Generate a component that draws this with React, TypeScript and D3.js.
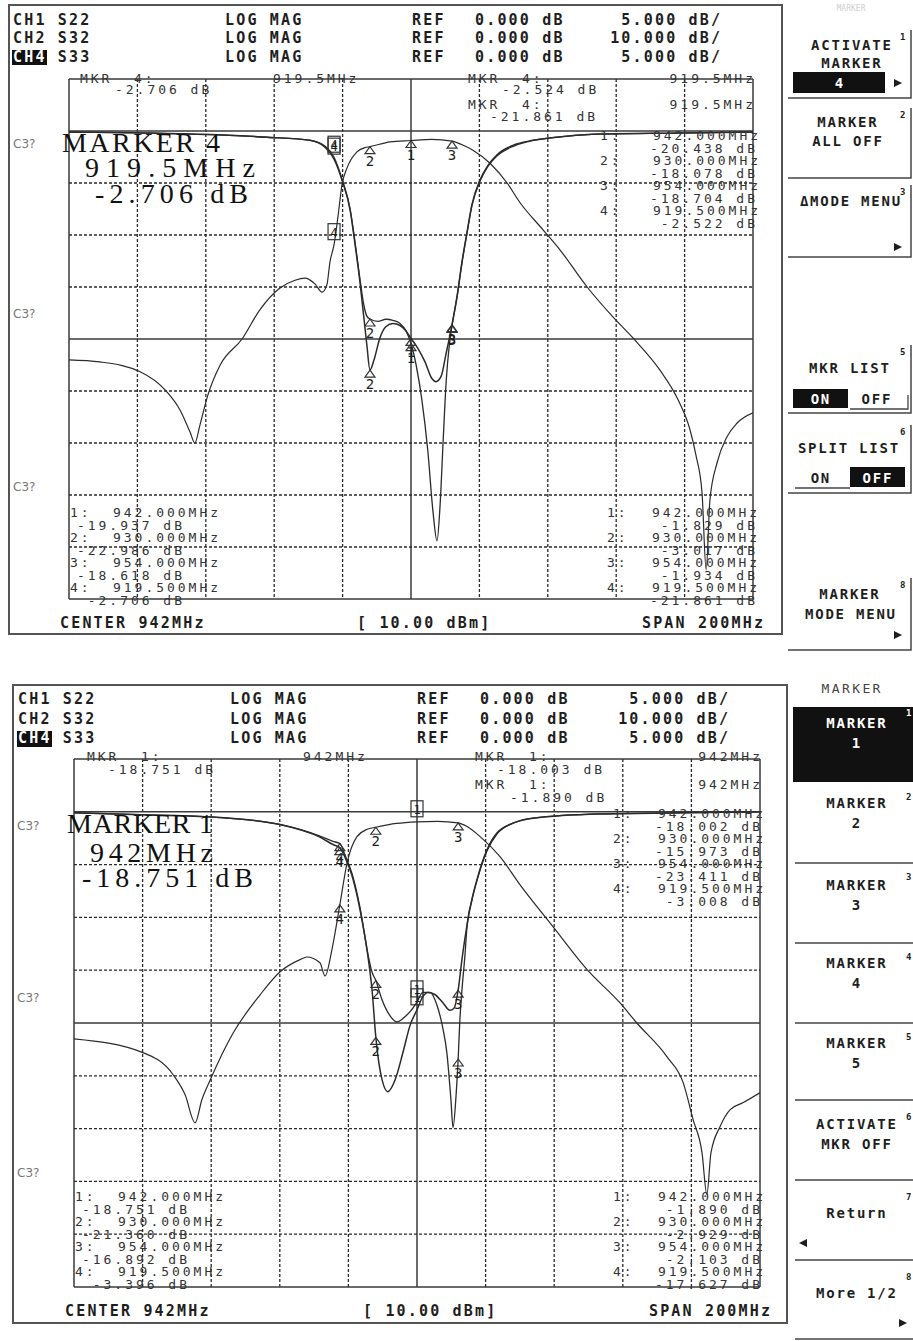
import * as d3 from "d3";

// sweep setup (same on both screens)
const CENTER_MHZ = 942;
const SPAN_MHZ = 200;
const MKR_MHZ = [942, 930, 954, 919.5]; // markers 1..4
const STIMULUS = "[ 10.00 dBm]";

// ---- upper screen, marker 4 active ----
// [MHz, dB]
const S22_UP: [number, number][] = [
  [842, -0.1], [866, -0.2], [900, -0.6], [912.5, -0.9], [917, -1.6], [919.5, -2.706], [922, -4.9],
  [924.2, -7.6], [925.6, -10.8], [927.1, -14.6], [928.3, -18.2], [929.1, -20.6], [930, -22.986],
  [931.2, -22.0], [932.9, -19.9], [934.7, -18.8], [936.7, -18.5], [938.8, -18.7], [940.5, -19.2],
  [942, -19.937], [944, -20.9], [946.1, -22.2], [948.1, -23.8], [949.3, -24.1], [950.8, -23.6],
  [952.2, -21.5], [954, -18.618], [955.5, -15.8], [956.9, -12.6], [958.4, -9.7], [959.8, -7.1],
  [962.2, -4.7], [964.5, -3.3], [967.1, -2.3], [972.4, -1.3], [977.7, -0.9], [987.6, -0.5],
  [997, -0.3], [1020, -0.2], [1042, -0.1],
];
const S33_UP: [number, number][] = [
  [842, -0.1], [866, -0.2], [900, -0.6], [912.5, -0.9], [917, -1.5], [919.5, -2.522], [922, -4.8],
  [924.2, -7.5], [925.6, -10.6], [927.1, -14.3], [928.3, -16.9], [929.1, -17.8], [930, -18.078],
  [932.3, -18.3], [934.7, -18.1], [936.7, -18.2], [938.8, -18.5], [940.5, -19.2], [942, -20.438],
  [943.5, -22.5], [945.2, -25.9], [946.9, -30.7], [948.4, -36.5], [949.6, -39.4], [950.5, -36.0],
  [951.4, -29.8], [952.3, -24.0], [953.2, -20.6], [954, -18.704], [955.5, -15.9], [956.9, -12.7],
  [958.4, -9.8], [959.8, -7.2], [962.2, -4.8], [964.5, -3.4], [967.1, -2.4], [972.4, -1.4],
  [977.7, -0.9], [987.6, -0.5], [997, -0.3], [1020, -0.2], [1042, -0.1],
];
const S32_UP: [number, number][] = [
  [842, -44.0], [851, -44.4], [862.8, -46.3], [870.1, -49.8], [874.5, -53.7], [877.4, -57.9],
  [878.8, -60.0], [880.3, -56.5], [882.6, -50.8], [886.2, -45.0], [892.6, -40.0], [897.8, -34.4],
  [903.7, -30.2], [908.1, -28.7], [911, -28.3], [913.9, -29.4], [916, -31.0], [917.4, -29.6],
  [918.3, -25.2], [919.5, -21.861], [920.7, -16.2], [921.8, -10.4], [923.3, -7.1], [926.2, -4.0],
  [928.5, -3.2], [930, -3.017], [935.9, -2.1], [942, -1.829], [948, -1.6], [954, -1.934],
  [957.8, -2.9], [960.1, -3.7], [965.1, -6.2], [970.1, -10.0], [973.9, -13.8], [980.6, -19.0],
  [985.6, -22.9], [993.5, -30.0], [1001.1, -35.8], [1006.9, -39.8], [1014.8, -46.0],
  [1020.1, -51.7], [1023.6, -57.5], [1025.3, -62.3], [1027.1, -69.6], [1028.3, -84.4],
  [1029.4, -71.0], [1031.5, -63.8], [1034.4, -58.8], [1037.3, -56.2], [1042, -54.2],
];
const MKR_S22_UP = [-19.937, -22.986, -18.618, -2.706];
const MKR_S33_UP = [-20.438, -18.078, -18.704, -2.522];
const MKR_S32_UP = [-1.829, -3.017, -1.934, -21.861];

// ---- lower screen, marker 1 active ----
const S22_DN: [number, number][] = [
  [842, -0.1], [864, -0.3], [882.5, -0.5], [902, -1.2], [913.7, -2.4], [917.5, -3.1], [919.5, -3.396],
  [921, -4.3], [923, -6.0], [925.4, -9.3], [927.7, -13.7], [928.9, -16.9], [930, -21.36],
  [931.2, -24.4], [933.5, -26.5], [935.6, -25.4], [937.9, -22.8], [940, -20.2], [942, -18.751],
  [943.7, -17.5], [945.2, -17.1], [947.2, -17.3], [949.6, -18.1], [951.6, -18.8], [952.8, -18.6],
  [954, -16.892], [955.1, -14.0], [956.6, -10.7], [958, -8.3], [959.5, -6.4], [962.4, -3.6],
  [965.3, -2.0], [970.6, -1.0], [975.8, -0.6], [995.4, -0.2], [1018.7, -0.1], [1042, 0],
];
const S33_DN: [number, number][] = [
  [842, -0.1], [864, -0.3], [882.5, -0.5], [902, -1.2], [913.7, -2.3], [917.5, -2.8], [919.5, -3.008],
  [921, -4.1], [923, -5.8], [925.4, -9.1], [927.7, -13.5], [928.9, -15.2], [930, -15.973],
  [931.8, -17.8], [934.1, -19.3], [936.2, -19.9], [938.5, -19.4], [940.3, -18.8], [942, -18.002],
  [943.7, -17.1], [945.8, -17.1], [947.8, -18.3], [949.6, -20.6], [950.7, -22.8], [951.9, -27.3],
  [952.5, -29.9], [953.4, -26.8], [954, -23.411], [954.5, -19.7], [955.1, -16.9], [956, -13.5],
  [956.6, -10.8], [958, -8.4], [959.5, -6.5], [962.4, -3.7], [965.3, -2.1], [970.6, -1.0],
  [975.8, -0.6], [995.4, -0.2], [1018.7, -0.1], [1042, 0],
];
const S32_DN: [number, number][] = [
  [842, -43.0], [862.1, -45.6], [870.9, -49.8], [874.4, -53.6], [877.3, -58.9], [879.3, -54.5],
  [881.7, -50.8], [888.4, -41.9], [896.2, -34.7], [902.1, -30.3], [907.9, -28.0], [909.9, -27.5],
  [913.7, -28.6], [915.2, -31.1], [917.2, -26.1], [919.5, -17.627], [921.6, -9.7], [924.5, -4.7],
  [927.5, -3.3], [930, -2.929], [936, -2.2], [942, -1.89], [948, -1.8], [954, -2.103],
  [956.6, -2.8], [960.4, -4.7], [966.2, -8.5], [972, -13.8], [981.7, -21.8], [991.6, -29.9],
  [1001.2, -36.2], [1006.1, -40.0], [1014.9, -46.4], [1019.6, -51.3], [1022.5, -58.3],
  [1025.1, -64.6], [1026.5, -72.5], [1027.7, -64.6], [1030.3, -59.7], [1033.3, -56.4],
  [1037, -55.1], [1042, -53.2],
];
const MKR_S22_DN = [-18.751, -21.36, -16.892, -3.396];
const MKR_S33_DN = [-18.002, -15.973, -23.411, -3.008];
const MKR_S32_DN = [-1.89, -2.929, -2.103, -17.627];
const HDR_MKR_UP = [-2.706, -2.524, -21.861];
const HDR_MKR_DN = [-18.751, -18.003, -1.89];

const CHANNELS = [
  { ch: "CH1", param: "S22", fmt: "LOG MAG", ref: "0.000 dB", scale: "5.000 dB/" },
  { ch: "CH2", param: "S32", fmt: "LOG MAG", ref: "0.000 dB", scale: "10.000 dB/" },
  { ch: "CH4", param: "S33", fmt: "LOG MAG", ref: "0.000 dB", scale: "5.000 dB/" },
];

const MONO = "'DejaVu Sans Mono', monospace";
const SERIF = "'Liberation Serif', serif";
const INK = "#1e1e1e";

type Pt = [number, number];
type Box = { x0: number; y0: number; x1: number; y1: number };
type ListPos = { lx: number; fx: number; dbEnd: number; y0: number };

function M({ x, y, s, size = 13, pitch = 10.8, bold = false, anchor = "start", fill = INK }: {
  x: number; y: number; s: string; size?: number; pitch?: number; bold?: boolean; anchor?: string; fill?: string;
}) {
  const adv = 0.602 * size;
  const ls = pitch - adv;
  const w = s.length * pitch - ls;
  const x0 = anchor === "end" ? x - w : anchor === "middle" ? x - w / 2 : x;
  return (
    <text x={x0} y={y} fontFamily={MONO} fontSize={size} fontWeight={bold ? 700 : 400} fill={fill}
      style={{ letterSpacing: `${ls}px`, whiteSpace: "pre" }}>{s}</text>
  );
}

const B = (p: any) => <M size={15} pitch={11.2} bold {...p} />;
const K = (p: any) => <M size={14} pitch={10.2} bold anchor="middle" {...p} />;
const S = (p: any) => <M fill="#333" {...p} />;

const fmtDb = (v: number) => `${v.toFixed(3)} dB`;
const fmtMhz = (f: number) => `${f.toFixed(3)}MHz`;

function Arrow({ x, y, left = false }: { x: number; y: number; left?: boolean }) {
  const d = left ? `M${x + 4},${y - 4}L${x - 4},${y}L${x + 4},${y + 4}Z` : `M${x - 4},${y - 4}L${x + 4},${y}L${x - 4},${y + 4}Z`;
  return <path d={d} fill={INK} />;
}

function MarkerList({ pos, vals }: { pos: ListPos; vals: number[] }) {
  const dy = 12.5;
  return (
    <g>
      {vals.map((v, i) => (
        <g key={i}>
          <S x={pos.lx} y={pos.y0 + 2 * i * dy} s={`${i + 1}:`} />
          <S x={pos.fx} y={pos.y0 + 2 * i * dy} s={fmtMhz(MKR_MHZ[i])} />
          <S x={pos.dbEnd} y={pos.y0 + (2 * i + 1) * dy} s={fmtDb(v)} anchor="end" />
        </g>
      ))}
    </g>
  );
}

type PanelProps = {
  id: string;
  frame: Box;
  grid: Box;
  active: number;
  traces: { data: Pt[]; perDiv: number; mkr: number[]; width: number }[];
  hdrX: { ch: number; fmt: number; ref: number; val: number; scaleEnd: number };
  hdrY: number[];
  chBox: Box;
  c3y: number[];
  c3x: number;
  big: { x: number; y: number; w: number; s: string }[];
  small: { x: number; y: number; s: string; anchor?: string }[];
  lists: { pos: ListPos; vals: number[] }[];
  footY: number;
  footX: [number, number, number];
};

function Panel(p: PanelProps) {
  const g = p.grid;
  const x = d3.scaleLinear([CENTER_MHZ - SPAN_MHZ / 2, CENTER_MHZ + SPAN_MHZ / 2], [g.x0, g.x1]);
  const yFor = (perDiv: number) => d3.scaleLinear([perDiv, -9 * perDiv], [g.y0, g.y1]);
  const cols = d3.range(11).map((i) => g.x0 + ((g.x1 - g.x0) * i) / 10);
  const rows = d3.range(11).map((i) => g.y0 + ((g.y1 - g.y0) * i) / 10);
  const clip = `clip-${p.id}`;

  return (
    <g>
      <rect x={p.frame.x0} y={p.frame.y0} width={p.frame.x1 - p.frame.x0} height={p.frame.y1 - p.frame.y0}
        fill="#fff" stroke="#555" strokeWidth={2} />
      <defs>
        <clipPath id={clip}>
          <rect x={g.x0} y={g.y0 - 2} width={g.x1 - g.x0} height={g.y1 - g.y0 + 4} />
        </clipPath>
      </defs>
      {/* grid */}
      {cols.map((c, i) => (
        <line key={`v${i}`} x1={c} x2={c} y1={g.y0} y2={g.y1} stroke={i % 5 === 0 ? "#3a3a3a" : "#2a2a2a"}
          strokeWidth={i % 5 === 0 ? 1.5 : 1.3} strokeDasharray={i % 5 === 0 ? undefined : "3 2"} />
      ))}
      {rows.map((r, i) => {
        const solid = i === 0 || i === 1 || i === 5 || i === 10;
        return (
          <line key={`h${i}`} x1={g.x0} x2={g.x1} y1={r} y2={r} stroke={solid ? "#3a3a3a" : "#2a2a2a"}
            strokeWidth={solid ? 1.5 : 1.3} strokeDasharray={solid ? undefined : "3 2"} />
        );
      })}

      {/* traces */}
      <g clipPath={`url(#${clip})`}>
        {p.traces.map((t, i) => {
          const y = yFor(t.perDiv);
          const line = d3.line<Pt>().x((d) => x(d[0])).y((d) => y(d[1])).curve(d3.curveMonotoneX);
          return <path key={i} d={line(t.data) || ""} fill="none" stroke="#2b2b2b" strokeWidth={t.width} />;
        })}
      </g>

      {/* marker symbols */}
      {p.traces.map((t, ti) => {
        const y = yFor(t.perDiv);
        return t.mkr.map((v, i) => {
          const px = x(MKR_MHZ[i]);
          const py = y(v);
          if (i === p.active) {
            return (
              <g key={`${ti}-${i}`}>
                <rect x={px - 6} y={py - 21} width={12} height={16} fill="none" stroke="#333" strokeWidth={1.2} />
                <text x={px} y={py - 8} textAnchor="middle" fontFamily={MONO} fontSize={12} fill={INK}>{i + 1}</text>
              </g>
            );
          }
          return (
            <g key={`${ti}-${i}`}>
              <path d={`M${px},${py}L${px - 5},${py + 7}L${px + 5},${py + 7}Z`} fill="none" stroke="#333" strokeWidth={1.2} />
              <text x={px} y={py + 19} textAnchor="middle" fontFamily={MONO} fontSize={14} fill={INK}>{i + 1}</text>
            </g>
          );
        });
      })}

      {/* header */}
      <rect x={p.chBox.x0} y={p.chBox.y0} width={p.chBox.x1 - p.chBox.x0} height={p.chBox.y1 - p.chBox.y0} fill="#111" />
      {CHANNELS.map((c, i) => (
        <g key={c.ch}>
          <B x={p.hdrX.ch} y={p.hdrY[i]} s={c.ch} fill={i === 2 ? "#fff" : INK} />
          <B x={p.hdrX.ch + 4 * 11.2} y={p.hdrY[i]} s={c.param} />
          <B x={p.hdrX.fmt} y={p.hdrY[i]} s={c.fmt} />
          <B x={p.hdrX.ref} y={p.hdrY[i]} s="REF" />
          <B x={p.hdrX.val} y={p.hdrY[i]} s={c.ref} />
          <B x={p.hdrX.scaleEnd} y={p.hdrY[i]} s={c.scale} anchor="end" />
        </g>
      ))}

      {p.c3y.map((cy, i) => (
        <text key={i} x={p.c3x} y={cy} fontFamily="'DejaVu Sans', sans-serif" fontSize={12} fill="#777">C3?</text>
      ))}

      {p.small.map((t, i) => <S key={i} x={t.x} y={t.y} s={t.s} anchor={t.anchor} />)}
      {p.lists.map((l, i) => <MarkerList key={i} pos={l.pos} vals={l.vals} />)}

      {p.big.map((t, i) => (
        <text key={i} x={t.x} y={t.y} fontFamily={SERIF} fontSize={28} fill="#111" textLength={t.w}
          lengthAdjust="spacing" style={{ whiteSpace: "pre" }}>{t.s}</text>
      ))}

      <B x={p.footX[0]} y={p.footY} s={`CENTER ${CENTER_MHZ}MHz`} />
      <B x={p.footX[1]} y={p.footY} s={STIMULUS} />
      <B x={p.footX[2]} y={p.footY} s={`SPAN ${SPAN_MHZ}MHz`} anchor="end" />
    </g>
  );
}

function Sup({ x, y, s, fill = INK }: { x: number; y: number; s: string; fill?: string }) {
  return <text x={x} y={y} fontFamily={MONO} fontSize={9} fontWeight={700} fill={fill}>{s}</text>;
}

function SoftkeysUp() {
  const edges = ["M788,98H911V30", "M788,178H911V108", "M788,257H911V185", "M788,413H911V345", "M788,493H911V425", "M788,650H911V578"];
  return (
    <g>
      <text x={851} y={11} textAnchor="middle" fontFamily={MONO} fontSize={8} fill="#d0d0d0">MARKER</text>
      {edges.map((d, i) => <path key={i} d={d} fill="none" stroke="#444" strokeWidth={1.5} />)}
      <Sup x={900} y={40} s="1" />
      <Sup x={900} y={118} s="2" />
      <Sup x={900} y={195} s="3" />
      <Sup x={900} y={355} s="5" />
      <Sup x={900} y={435} s="6" />
      <Sup x={900} y={588} s="8" />

      <K x={851} y={50} s="ACTIVATE" />
      <K x={851} y={68} s="MARKER" />
      <rect x={793} y={72} width={92} height={21} fill="#111" />
      <K x={839} y={88} s={`${4}`} fill="#fff" />
      <Arrow x={898} y={83} />

      <K x={847} y={127} s="MARKER" />
      <K x={847} y={146} s="ALL OFF" />

      <K x={850} y={206} s="ΔMODE MENU" />
      <Arrow x={898} y={247} />

      <K x={849} y={373} s="MKR LIST" />
      <rect x={793} y={389} width={55} height={19} fill="#111" />
      <K x={820} y={404} s="ON" fill="#fff" />
      <K x={876} y={404} s="OFF" />
      <path d="M850,409H908V395" fill="none" stroke="#444" strokeWidth={1.3} />

      <K x={848} y={453} s="SPLIT LIST" />
      <K x={820} y={483} s="ON" />
      <path d="M795,488H850" fill="none" stroke="#444" strokeWidth={1.3} />
      <rect x={850} y={467} width={55} height={20} fill="#111" />
      <K x={877} y={483} s="OFF" fill="#fff" />

      <K x={849} y={599} s="MARKER" />
      <K x={850} y={619} s="MODE MENU" />
      <Arrow x={898} y={635} />
    </g>
  );
}

function SoftkeysDown() {
  const lines = [863, 943, 1023, 1100, 1180, 1260, 1339];
  const keys = [
    { a: "MARKER", b: "2", y: 808, sy: 800 },
    { a: "MARKER", b: "3", y: 890, sy: 880 },
    { a: "MARKER", b: "4", y: 968, sy: 960 },
    { a: "MARKER", b: "5", y: 1048, sy: 1040 },
    { a: "ACTIVATE", b: "MKR OFF", y: 1129, sy: 1120 },
  ];
  return (
    <g>
      <M x={851} y={693} s="MARKER" anchor="middle" size={13} pitch={10.2} fill="#444" />
      <rect x={793} y={707} width={120} height={75} fill="#111" />
      <K x={856} y={728} s="MARKER" fill="#fff" />
      <K x={856} y={748} s="1" fill="#fff" />
      <Sup x={906} y={716} s="1" fill="#fff" />
      {lines.map((ly) => <line key={ly} x1={795} x2={913} y1={ly} y2={ly} stroke="#444" strokeWidth={1.5} />)}
      {keys.map((k, i) => (
        <g key={i}>
          <K x={856} y={k.y} s={k.a} />
          <K x={856} y={k.y + 20} s={k.b} />
          <Sup x={906} y={k.sy} s={`${i + 2}`} />
        </g>
      ))}
      <K x={856} y={1218} s="Return" />
      <Arrow x={803} y={1243} left />
      <Sup x={906} y={1200} s="7" />
      <K x={856} y={1298} s="More 1/2" />
      <Arrow x={903} y={1323} />
      <Sup x={906} y={1280} s="8" />
    </g>
  );
}

export default function App() {
  const up: PanelProps = {
    id: "up",
    frame: { x0: 9, y0: 5, x1: 782, y1: 634 },
    grid: { x0: 69, y0: 79, x1: 753, y1: 599 },
    active: 3,
    traces: [
      { data: S32_UP, perDiv: 10, mkr: MKR_S32_UP, width: 1.2 },
      { data: S33_UP, perDiv: 5, mkr: MKR_S33_UP, width: 1.3 },
      { data: S22_UP, perDiv: 5, mkr: MKR_S22_UP, width: 1.5 },
    ],
    hdrX: { ch: 13, fmt: 225, ref: 412, val: 475, scaleEnd: 720 },
    hdrY: [25, 43, 62],
    chBox: { x0: 12, y0: 50, x1: 47, y1: 65 },
    c3y: [148, 318, 491],
    c3x: 13,
    big: [
      { x: 62, y: 152, w: 158, s: `MARKER ${4}` },
      { x: 85, y: 177, w: 170, s: `${MKR_MHZ[3]}MHz` },
      { x: 95, y: 203, w: 153, s: fmtDb(HDR_MKR_UP[0]) },
    ],
    small: [
      { x: 80, y: 83, s: "MKR  4:" },
      { x: 115, y: 94, s: fmtDb(HDR_MKR_UP[0]) },
      { x: 273, y: 83, s: `${MKR_MHZ[3]}MHz` },
      { x: 468, y: 83, s: "MKR  4:" },
      { x: 502, y: 94, s: fmtDb(HDR_MKR_UP[1]) },
      { x: 468, y: 109, s: "MKR  4:" },
      { x: 490, y: 121, s: fmtDb(HDR_MKR_UP[2]) },
      { x: 753, y: 83, s: `${MKR_MHZ[3]}MHz`, anchor: "end" },
      { x: 753, y: 109, s: `${MKR_MHZ[3]}MHz`, anchor: "end" },
    ],
    lists: [
      { pos: { lx: 70, fx: 113, dbEnd: 182, y0: 517 }, vals: MKR_S22_UP },
      { pos: { lx: 600, fx: 653, dbEnd: 755, y0: 140 }, vals: MKR_S33_UP },
      { pos: { lx: 607, fx: 652, dbEnd: 755, y0: 517 }, vals: MKR_S32_UP },
    ],
    footY: 628,
    footX: [60, 357, 763],
  };

  const dn: PanelProps = {
    id: "dn",
    frame: { x0: 13, y0: 685, x1: 787, y1: 1323 },
    grid: { x0: 74, y0: 759, x1: 760, y1: 1287 },
    active: 0,
    traces: [
      { data: S32_DN, perDiv: 10, mkr: MKR_S32_DN, width: 1.2 },
      { data: S33_DN, perDiv: 5, mkr: MKR_S33_DN, width: 1.3 },
      { data: S22_DN, perDiv: 5, mkr: MKR_S22_DN, width: 1.5 },
    ],
    hdrX: { ch: 18, fmt: 230, ref: 417, val: 480, scaleEnd: 728 },
    hdrY: [704, 724, 743],
    chBox: { x0: 17, y0: 731, x1: 52, y1: 747 },
    c3y: [830, 1002, 1177],
    c3x: 17,
    big: [
      { x: 67, y: 833, w: 146, s: `MARKER ${1}` },
      { x: 90, y: 862, w: 123, s: `${MKR_MHZ[0]}MHz` },
      { x: 82, y: 887, w: 171, s: fmtDb(HDR_MKR_DN[0]) },
    ],
    small: [
      { x: 87, y: 761, s: "MKR  1:" },
      { x: 108, y: 774, s: fmtDb(HDR_MKR_DN[0]) },
      { x: 303, y: 761, s: `${MKR_MHZ[0]}MHz` },
      { x: 475, y: 761, s: "MKR  1:" },
      { x: 497, y: 774, s: fmtDb(HDR_MKR_DN[1]) },
      { x: 475, y: 789, s: "MKR  1:" },
      { x: 510, y: 802, s: fmtDb(HDR_MKR_DN[2]) },
      { x: 760, y: 761, s: `${MKR_MHZ[0]}MHz`, anchor: "end" },
      { x: 760, y: 789, s: `${MKR_MHZ[0]}MHz`, anchor: "end" },
    ],
    lists: [
      { pos: { lx: 75, fx: 118, dbEnd: 187, y0: 1201 }, vals: MKR_S22_DN },
      { pos: { lx: 613, fx: 658, dbEnd: 760, y0: 818 }, vals: MKR_S33_DN },
      { pos: { lx: 613, fx: 658, dbEnd: 760, y0: 1201 }, vals: MKR_S32_DN },
    ],
    footY: 1316,
    footX: [65, 363, 770],
  };

  return (
    <svg width={913} height={1341} style={{ position: "absolute", left: 0, top: 0, background: "#fff" }}>
      <rect width={913} height={1341} fill="#fff" />
      <Panel {...up} />
      <SoftkeysUp />
      <Panel {...dn} />
      <SoftkeysDown />
    </svg>
  );
}
